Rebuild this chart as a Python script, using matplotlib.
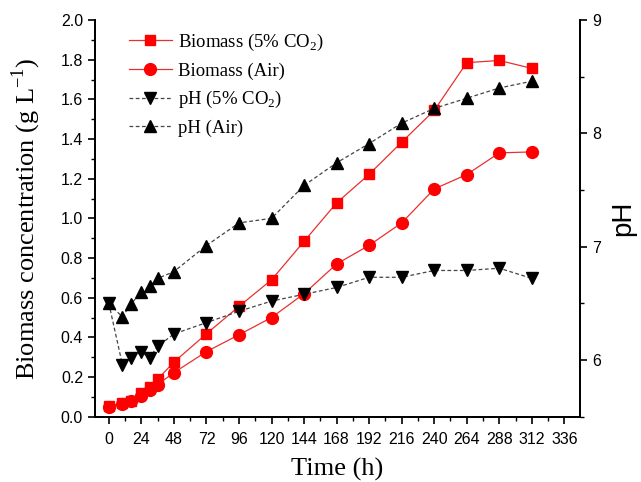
import matplotlib
matplotlib.use('Agg')
import matplotlib.pyplot as plt
from matplotlib.ticker import MultipleLocator

# sampling times (h)
time_h = [0, 10, 16, 24, 30, 36, 48, 72, 96, 120, 144, 168, 192, 216, 240, 264, 288, 312]

# biomass (g/L)
biomass_co2 = [0.054, 0.068, 0.080, 0.118, 0.148, 0.189, 0.275, 0.418, 0.556, 0.690,
               0.884, 1.078, 1.222, 1.384, 1.544, 1.785, 1.796, 1.756]
biomass_air = [0.050, 0.064, 0.078, 0.105, 0.135, 0.162, 0.222, 0.328, 0.413, 0.500,
               0.620, 0.770, 0.864, 0.977, 1.148, 1.221, 1.330, 1.335]

# pH
ph_co2 = [6.50, 5.96, 6.02, 6.07, 6.02, 6.12, 6.23, 6.33, 6.43, 6.52,
          6.58, 6.64, 6.73, 6.73, 6.79, 6.79, 6.81, 6.72]
ph_air = [6.50, 6.38, 6.49, 6.60, 6.65, 6.72, 6.78, 7.01, 7.21, 7.25,
          7.54, 7.74, 7.91, 8.09, 8.22, 8.31, 8.40, 8.46]

serif = ['Liberation Serif', 'DejaVu Serif']
sans = ['Liberation Sans', 'DejaVu Sans']
plt.rcParams['font.family'] = sans
plt.rcParams['mathtext.fontset'] = 'custom'
plt.rcParams['mathtext.rm'] = 'Liberation Serif'

fig = plt.figure(figsize=(6.41, 4.82), dpi=100)
ax = fig.add_axes([0.148, 0.1355, 0.757, 0.823])
ax2 = ax.twinx()

l1, = ax.plot(time_h, biomass_co2, color='#e83030', lw=0.9, marker='s', ms=7,
              mfc='#ff0000', mec='#ff0000', label='Biomass (5% CO$_2$)')
l2, = ax.plot(time_h, biomass_air, color='#e83030', lw=0.9, marker='o', ms=8.5,
              mfc='#ff0000', mec='#ff0000', label='Biomass (Air)')
l3, = ax2.plot(time_h, ph_co2, color='#444444', lw=0.9, ls=(0, (3, 2)), marker='v', ms=9,
               mfc='black', mec='black', label='pH (5% CO$_2$)')
l4, = ax2.plot(time_h, ph_air, color='#444444', lw=0.9, ls=(0, (3, 2)), marker='^', ms=9,
               mfc='black', mec='black', label='pH (Air)')

ax.set_xlim(-10.3, 347.6)
ax.set_ylim(0, 2.0)
ax2.set_ylim(5.5, 9)

ax.set_xticks(range(0, 337, 24))
ax.xaxis.set_minor_locator(MultipleLocator(12))
ax.yaxis.set_major_locator(MultipleLocator(0.2))
ax.yaxis.set_minor_locator(MultipleLocator(0.1))
ax2.yaxis.set_major_locator(MultipleLocator(1))
ax2.yaxis.set_minor_locator(MultipleLocator(0.5))
ax.yaxis.set_major_formatter(plt.FormatStrFormatter('%.1f'))

for a in (ax, ax2):
    a.spines['top'].set_visible(False)
    for s in a.spines.values():
        s.set_linewidth(1.3)
    a.tick_params(which='major', direction='out', length=5, width=1.2, labelsize=11.5)
    a.tick_params(which='minor', direction='out', length=3, width=1.0)
ax.tick_params(axis='x', pad=6)

ax.set_xlabel('Time (h)', family=serif, fontsize=19, labelpad=8)
ax.set_ylabel('Biomass concentration (g L$^{-1}$)', family=serif, fontsize=19, labelpad=13)
ax2.set_ylabel('pH', fontsize=20, labelpad=7)

leg = ax.legend(handles=[l1, l2, l3, l4], loc='upper left', bbox_to_anchor=(0.07, 0.97),
                frameon=False, prop={'family': serif, 'size': 13.5}, handlelength=2.3,
                handletextpad=0.3, labelspacing=0.5, borderpad=0, borderaxespad=0)

fig.savefig('out.png', dpi=100)
